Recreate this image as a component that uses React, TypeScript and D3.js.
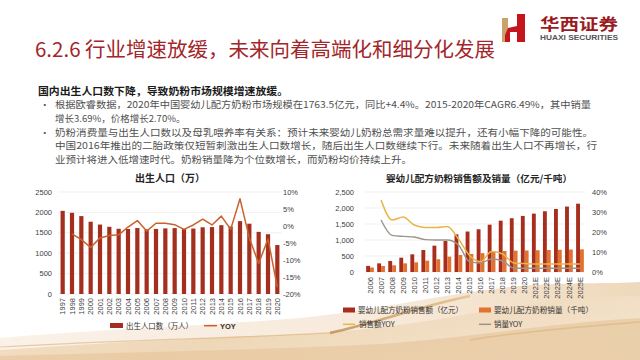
import { scaleBand, scaleLinear, line as d3_line, curveMonotoneX, curveLinear, format } from "d3";

// ---- left chart: births ----
const years1 = ["1997","1998","1999","2000","2001","2002","2003","2004","2005","2006","2007","2008","2009","2010","2011","2012","2013","2014","2015","2016","2017","2018","2019","2020"];
const births = [2038, 1991, 1909, 1771, 1702, 1647, 1599, 1593, 1617, 1585, 1595, 1608, 1615, 1592, 1604, 1635, 1640, 1687, 1655, 1786, 1723, 1523, 1465, 1200];
const birthYoy = [null, -2.3, -4.0, -6.3, -3.5, -2.8, -2.6, -0.3, 1.6, -1.5, 0.8, 0.8, 0.4, -1.0, 0.3, 2.0, 0.3, 2.9, -1.0, 8.0, -3.5, -11.0, -3.8, -18.0];
const leftTicks1 = [0, 500, 1000, 1500, 2000, 2500];
const rightTicks1 = [-20, -15, -10, -5, 0, 5, 10];

// ---- right chart: infant formula ----
const years2 = ["2006","2007","2008","2009","2010","2011","2012","2013","2014","2015","2016","2017","2018","2019","2020","2021E","2022E","2023E","2024E","2025E"];
const sales = [190, 270, 345, 448, 552, 687, 823, 969, 1177, 1265, 1335, 1479, 1604, 1680, 1752, 1825, 1898, 1970, 2045, 2135];
const volume = [140, 187, 210, 270, 302, 354, 398, 479, 531, 562, 590, 635, 655, 666, 672, 680, 688, 695, 702, 708];
const salesYoy = [null, 36, 26, 27.5, 23.5, 22.3, 22.3, 22.8, 16.5, 8.3, 5.2, 10.2, 9.0, 4.5, 4.2, 4.0, 4.0, 4.0, 4.0, 4.0];
const volYoy = [null, 26, 18.3, 17.8, 17.5, 16.2, 16, 16, 13.5, 5.2, 4.5, 6.5, 5.5, 2.0, 1.9, 1.9, 1.9, 1.9, 1.9, 1.9];
const leftTicks2 = [0, 500, 1000, 1500, 2000, 2500];
const rightTicks2 = [0, 10, 20, 30, 40];

const bodyLines = [
  "根据欧睿数据，2020年中国婴幼儿配方奶粉市场规模在1763.5亿元，同比+4.4%。2015-2020年CAGR6.49%，其中销量",
  "增长3.69%，价格增长2.70%。",
  "奶粉消费量与出生人口数以及母乳喂养率有关系：预计未来婴幼儿奶粉总需求量难以提升，还有小幅下降的可能性。",
  "中国2016年推出的二胎政策仅短暂刺激出生人口数增长，随后出生人口数继续下行。未来随着出生人口不再增长，行",
  "业预计将进入低增速时代。奶粉销量降为个位数增长，而奶粉均价持续上升。",
];
const bodyY = [108, 121.5, 135.5, 149, 162.5];
const bodyEnd = [591, 0, 593, 597, 412];

const CJK = "'Noto Sans CJK SC', 'Noto Sans', sans-serif";
const NUM = "'Liberation Sans', Arial, 'Noto Sans CJK SC', sans-serif";

export default function App() {
  // left scales
  const x1 = scaleBand<string>().domain(years1).range([58, 282]).paddingInner(0.55).paddingOuter(0.275);
  const y1 = scaleLinear().domain([0, 2500]).range([294, 192]);
  const y1r = scaleLinear().domain([-20, 10]).range([294, 192]);
  const yoyLine1 = d3_line<number | null>()
    .defined((d) => d !== null)
    .x((_, i) => (x1(years1[i]) ?? 0) + x1.bandwidth() / 2)
    .y((d) => y1r(d as number))
    .curve(curveLinear);

  // right scales
  const x2 = scaleBand<string>().domain(years2).range([364.5, 585.5]).paddingInner(0.3).paddingOuter(0.15);
  const sub = scaleBand<string>().domain(["sales", "volume"]).range([0, x2.bandwidth()]).padding(0);
  const y2 = scaleLinear().domain([0, 2500]).range([272, 192]);
  const y2r = scaleLinear().domain([0, 40]).range([272, 192]);
  const mkLine2 = d3_line<number | null>()
    .defined((d) => d !== null)
    .x((_, i) => (x2(years2[i]) ?? 0) + x2.bandwidth() / 2)
    .y((d) => y2r(d as number))
    .curve(curveMonotoneX);

  const comma = format(",");

  return (
    <div style={{ position: "absolute", left: 0, top: 0, width: 640, height: 360 }}>
      <svg width={640} height={360} viewBox="0 0 640 360" style={{ display: "block", background: "#fff" }}>
        <defs>
          <linearGradient id="sand1" x1="0" y1="0" x2="1" y2="0.3">
            <stop offset="0" stopColor="#f1dcc0" />
            <stop offset="0.5" stopColor="#ecd2ad" />
            <stop offset="1" stopColor="#f3e2cb" />
          </linearGradient>
          <linearGradient id="sand2" x1="0" y1="0" x2="1" y2="0">
            <stop offset="0" stopColor="#f8ece0" />
            <stop offset="0.6" stopColor="#f5e3cf" />
            <stop offset="1" stopColor="#e9cba4" />
          </linearGradient>
          <linearGradient id="gold" x1="0" y1="0" x2="1" y2="0">
            <stop offset="0" stopColor="#b98a4a" />
            <stop offset="1" stopColor="#e2c089" />
          </linearGradient>
        </defs>

        {/* sand background waves */}
        <path d="M0,360 L0,338 C90,330 200,326 300,318 C380,310 450,292 520,286 C570,282 610,284 640,282 L640,360 Z" fill="url(#sand2)" opacity={0.75} />
        <path d="M0,360 L0,350 C110,342 220,338 330,332 C420,326 480,310 560,300 C600,296 625,296 640,296 L640,360 Z" fill="url(#sand1)" opacity={0.8} />
        <path d="M0,360 L0,356 C140,352 260,350 380,344 C470,338 540,324 640,318 L640,360 Z" fill="#e7c79e" opacity={0.7} />
        <path d="M330,333 C380,322 420,306 470,296" stroke="url(#gold)" strokeWidth={2.5} fill="none" opacity={0.8} />
        <path d="M0,347 C120,340 240,338 330,333" stroke="#d9b27c" strokeWidth={1.2} fill="none" opacity={0.6} />
        <path d="M470,340 C530,330 590,326 640,322" stroke="#d6ad78" strokeWidth={1.5} fill="none" opacity={0.5} />

        {/* logo */}
        <rect x={502} y={18} width={6} height={24} fill="#c9a36a" />
        <path d="M517,14 L525,14 L525,42 L517,42 L517,32 L510,32 L510,42 L505,42 L505,35 L508,28 L517,26 Z" fill="#c4161c" />
        <text x={540} y={30} fontFamily={CJK} fontWeight={700} fontSize={16} fill="#9c1b1f" textLength={78} lengthAdjust="spacingAndGlyphs">华西证券</text>
        <text x={540} y={40} fontFamily={NUM} fontWeight={700} fontSize={6.5} fill="#555" textLength={78} lengthAdjust="spacingAndGlyphs">HUAXI SECURITIES</text>

        {/* title */}
        <text x={35} y={57} fontFamily={CJK} fontSize={20} fill="#a3262a" textLength={460} lengthAdjust="spacingAndGlyphs">
          6.2.6 行业增速放缓，未来向着高端化和细分化发展
        </text>

        {/* body */}
        <text x={38} y={94.5} fontFamily={CJK} fontWeight={700} fontSize={10.5} fill="#1a1a1a" textLength={250} lengthAdjust="spacingAndGlyphs">
          国内出生人口数下降，导致奶粉市场规模增速放缓。
        </text>
        <text x={40} y={bodyY[0]} fontFamily={CJK} fontSize={9.5} fill="#505050">•</text>
        <text x={40} y={bodyY[2]} fontFamily={CJK} fontSize={9.5} fill="#505050">•</text>
        {bodyLines.map((t, i) =>
          bodyEnd[i] ? (
            <text key={i} x={55} y={bodyY[i]} fontFamily={CJK} fontSize={9.5} fill="#505050" textLength={bodyEnd[i] - 55} lengthAdjust="spacingAndGlyphs">{t}</text>
          ) : (
            <text key={i} x={55} y={bodyY[i]} fontFamily={CJK} fontSize={9.5} fill="#505050">{t}</text>
          )
        )}

        {/* ===== left chart ===== */}
        <text x={170} y={182} textAnchor="middle" fontFamily={CJK} fontWeight={700} fontSize={10} fill="#262626">出生人口（万）</text>
        {leftTicks1.map((t) => (
          <g key={t}>
            <line x1={58} x2={282} y1={y1(t)} y2={y1(t)} stroke="#e6e6e6" strokeWidth={0.6} />
            <text x={52} y={y1(t) + 2.6} textAnchor="end" fontFamily={NUM} fontSize={7.5} fill="#404040">{t}</text>
          </g>
        ))}
        {rightTicks1.map((t) => (
          <text key={t} x={283} y={y1r(t) + 2.6} fontFamily={NUM} fontSize={7.5} fill="#404040">{t}%</text>
        ))}
        {births.map((v, i) => (
          <rect key={i} x={x1(years1[i])} y={y1(v)} width={x1.bandwidth()} height={y1(0) - y1(v)} fill="#a3301f" />
        ))}
        <path d={yoyLine1(birthYoy) ?? ""} fill="none" stroke="#c9612c" strokeWidth={1.5} strokeLinejoin="round" />
        {years1.map((yr) => (
          <text key={yr} transform={`translate(${(x1(yr) ?? 0) + x1.bandwidth() / 2 + 2.6},298) rotate(-90)`} textAnchor="end" fontFamily={NUM} fontSize={7.5} fill="#404040">{yr}</text>
        ))}
        {/* legend */}
        <rect x={110} y={323} width={13} height={5} fill="#a3301f" />
        <text x={126} y={328.5} fontFamily={CJK} fontSize={7.5} fill="#333" textLength={67} lengthAdjust="spacingAndGlyphs">出生人口数（万人）</text>
        <line x1={204} x2={217} y1={325.7} y2={325.7} stroke="#c9612c" strokeWidth={1.5} />
        <text x={220} y={328.5} fontFamily={NUM} fontWeight={700} fontSize={7.5} fill="#333">YOY</text>

        {/* ===== right chart ===== */}
        <text x={479} y={182} textAnchor="middle" fontFamily={CJK} fontWeight={700} fontSize={9.6} fill="#262626">婴幼儿配方奶粉销售额及销量（亿元/千吨）</text>
        {leftTicks2.map((t) => (
          <g key={t}>
            <line x1={364.5} x2={585.5} y1={y2(t)} y2={y2(t)} stroke="#e8e8e8" strokeWidth={0.6} />
            <text x={354} y={y2(t) + 2.6} textAnchor="end" fontFamily={NUM} fontSize={7.5} fill="#404040">{comma(t)}</text>
          </g>
        ))}
        {rightTicks2.map((t) => (
          <text key={t} x={592} y={y2r(t) + 2.6} fontFamily={NUM} fontSize={7.5} fill="#404040">{t}%</text>
        ))}
        {years2.map((yr, i) => (
          <g key={yr} transform={`translate(${x2(yr)},0)`}>
            <rect x={sub("sales")} y={y2(sales[i])} width={sub.bandwidth()} height={y2(0) - y2(sales[i])} fill="#a72d1c" />
            <rect x={sub("volume")} y={y2(volume[i])} width={sub.bandwidth()} height={y2(0) - y2(volume[i])} fill="#e2722f" />
          </g>
        ))}
        <path d={mkLine2(volYoy) ?? ""} fill="none" stroke="#9d938b" strokeWidth={1.4} />
        <path d={mkLine2(salesYoy) ?? ""} fill="none" stroke="#e9b548" strokeWidth={1.5} />
        {years2.map((yr) => (
          <text key={yr} transform={`translate(${(x2(yr) ?? 0) + x2.bandwidth() / 2 + 2.6},277) rotate(-90)`} textAnchor="end" fontFamily={NUM} fontSize={7.5} fill="#404040">{yr}</text>
        ))}
        {/* legend */}
        <rect x={343} y={307.5} width={12} height={5} fill="#a72d1c" />
        <text x={358} y={313} fontFamily={CJK} fontSize={7.5} fill="#333" textLength={105} lengthAdjust="spacingAndGlyphs">婴幼儿配方奶粉销售额（亿元）</text>
        <rect x={479} y={307.5} width={12} height={5} fill="#e2722f" />
        <text x={494} y={313} fontFamily={CJK} fontSize={7.5} fill="#333" textLength={99} lengthAdjust="spacingAndGlyphs">婴幼儿配方奶粉销量（千吨）</text>
        <line x1={343} x2={355} y1={324.3} y2={324.3} stroke="#e9b548" strokeWidth={1.5} />
        <text x={359} y={327} fontFamily={CJK} fontSize={7.5} fill="#333">销售额YOY</text>
        <line x1={479} x2={491} y1={324.3} y2={324.3} stroke="#9d938b" strokeWidth={1.5} />
        <text x={494} y={327} fontFamily={CJK} fontSize={7.5} fill="#333">销量YOY</text>
      </svg>
    </div>
  );
}
